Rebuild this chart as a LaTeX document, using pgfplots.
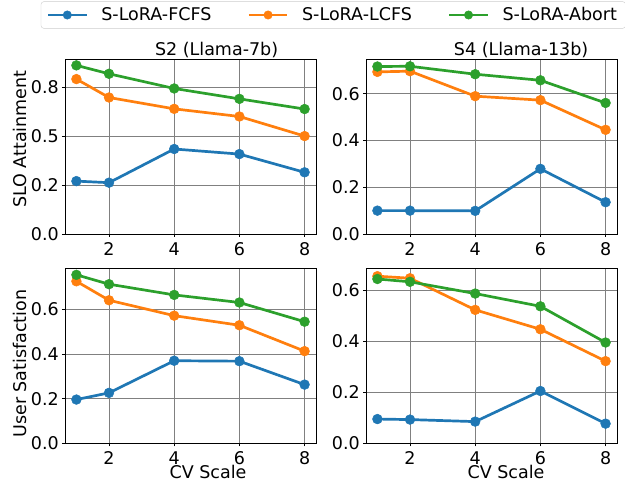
\documentclass[border=0pt]{standalone}
\usepackage{fontspec}
\setmainfont{DejaVu Sans}
\usepackage{pgfplots}
\pgfplotsset{compat=1.18}
\definecolor{tabblue}{HTML}{1F77B4}
\definecolor{taborange}{HTML}{FF7F0E}
\definecolor{tabgreen}{HTML}{2CA02C}
\newcommand{\fs}{\fontsize{17.5}{21}\selectfont}
\pgfplotsset{
  myax/.style={
    scale only axis, width=251pt, height=174.5pt,
    xmin=0.65, xmax=8.35, ymin=0,
    clip mode=individual,
    xtick={2,4,6,8}, xticklabels={2,4,6,8},
    grid=major, major grid style={black!50, line width=0.8pt},
    tick pos=left, tick align=outside, major tick length=3pt,
    tick style={black, line width=0.8pt},
    axis line style={line width=0.8pt},
    every tick label/.append style={font=\fs, inner sep=0pt},
    /pgf/number format/assume math mode=true,
    xticklabel style={yshift=-5.5pt},
    yticklabel style={xshift=-3pt},
    label style={font=\fs},
  },
  sA/.style={tabblue, line width=2.7pt, mark=*, mark size=4.9pt, mark options={solid, line width=0.5pt}},
  sB/.style={taborange, line width=2.7pt, mark=*, mark size=4.9pt, mark options={solid, line width=0.5pt}},
  sC/.style={tabgreen, line width=2.7pt, mark=*, mark size=4.9pt, mark options={solid, line width=0.5pt}},
}
\begin{document}
\begin{tikzpicture}[x=1pt,y=1pt,font=\fs]
\useasboundingbox (0,0) rectangle (625,482);
% top left
\begin{axis}[myax, at={(65pt,248pt)}, anchor=south west, ymax=0.891,
  ytick={0,0.25,0.5,0.75}, yticklabels={0.0,0.2,0.5,0.8},
  legend columns=3,
  legend cell align=left,
  legend style={at={(1.069,1.255)}, anchor=center, draw=black!20, rounded corners=3pt, font=\fs,
    inner xsep=5.7pt, inner ysep=3pt,
    nodes={inner xsep=0pt, inner ysep=3pt}},
  legend image code/.code={\draw[mark repeat=2, mark phase=2, mark size=4.2pt] plot coordinates {(0pt,0pt) (19.3pt,0pt) (38.6pt,0pt)};},
  ylabel={SLO Attainment},
  ylabel style={at={(axis description cs:-0.155,0.543)}, anchor=base, inner sep=0pt},
]
\addplot[sA] coordinates {(1,0.270)(2,0.262)(4,0.434)(6,0.408)(8,0.315)};
\addplot[sB] coordinates {(1,0.791)(2,0.697)(4,0.639)(6,0.600)(8,0.500)};
\addplot[sC] coordinates {(1,0.861)(2,0.818)(4,0.743)(6,0.690)(8,0.638)};
\legend{\rule{13.4pt}{0pt}S-LoRA-FCFS\rule{36pt}{0pt},\rule{13.4pt}{0pt}S-LoRA-LCFS\rule{36pt}{0pt},\rule{13.4pt}{0pt}S-LoRA-Abort\rule{3pt}{0pt}}
\node[anchor=base, inner sep=0pt] at (axis description cs:0.604,1) [yshift=3.6pt] {S2 (Llama-7b)};
\end{axis}
% top right
\begin{axis}[myax, at={(366pt,248pt)}, anchor=south west, ymax=0.747,
  ytick={0,0.2,0.4,0.6}, yticklabels={0.0,0.2,0.4,0.6},
]
\addplot[sA] coordinates {(1,0.100)(2,0.100)(4,0.099)(6,0.279)(8,0.136)};
\addplot[sB] coordinates {(1,0.694)(2,0.697)(4,0.590)(6,0.573)(8,0.446)};
\addplot[sC] coordinates {(1,0.717)(2,0.718)(4,0.684)(6,0.658)(8,0.561)};
\node[anchor=base, inner sep=0pt] at (axis description cs:0.618,1) [yshift=3.6pt] {S4 (Llama-13b)};
\end{axis}
% bottom left
\begin{axis}[myax, at={(65pt,38.7pt)}, anchor=south west, ymax=0.782,
  ytick={0,0.2,0.4,0.6}, yticklabels={0.0,0.2,0.4,0.6},
  ylabel={User Satisfaction},
  ylabel style={at={(axis description cs:-0.155,0.457)}, anchor=base, inner sep=0pt},
]
\addplot[sA] coordinates {(1,0.196)(2,0.226)(4,0.370)(6,0.368)(8,0.263)};
\addplot[sB] coordinates {(1,0.726)(2,0.641)(4,0.572)(6,0.529)(8,0.413)};
\addplot[sC] coordinates {(1,0.755)(2,0.713)(4,0.665)(6,0.631)(8,0.545)};
\node[anchor=base, inner sep=0pt] at (axis description cs:0.570,0) [yshift=-35.7pt] {CV Scale};
\end{axis}
% bottom right
\begin{axis}[myax, at={(366pt,38.7pt)}, anchor=south west, ymax=0.684,
  ytick={0,0.2,0.4,0.6}, yticklabels={0.0,0.2,0.4,0.6},
]
\addplot[sA] coordinates {(1,0.095)(2,0.093)(4,0.085)(6,0.205)(8,0.077)};
\addplot[sB] coordinates {(1,0.655)(2,0.647)(4,0.523)(6,0.447)(8,0.322)};
\addplot[sC] coordinates {(1,0.644)(2,0.633)(4,0.587)(6,0.537)(8,0.395)};
\node[anchor=base, inner sep=0pt] at (axis description cs:0.558,0) [yshift=-35.7pt] {CV Scale};
\end{axis}
\end{tikzpicture}
\end{document}
